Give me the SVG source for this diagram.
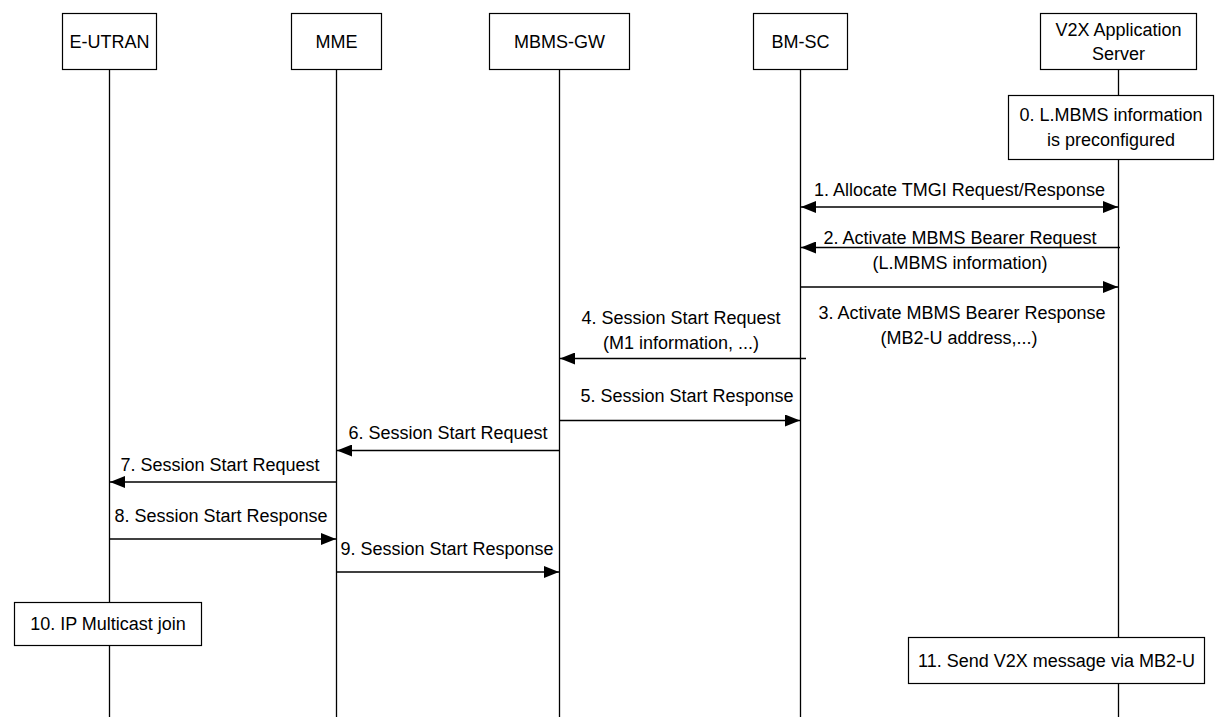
<svg xmlns="http://www.w3.org/2000/svg" width="1216" height="717" viewBox="0 0 1216 717">
<style>
.box{fill:#fff;stroke:#000;stroke-width:1.2}
.life{stroke:#000;stroke-width:1.3;fill:none}
.msg{stroke:#000;stroke-width:1.3;fill:none}
text{font-family:"Liberation Sans",Arial,sans-serif;font-size:18px;fill:#000;text-anchor:middle}
</style>
<defs>
<marker id="ah" markerUnits="userSpaceOnUse" markerWidth="15" markerHeight="12" refX="15" refY="6" orient="auto-start-reverse">
<path d="M0,0 L15,6 L0,12 z" fill="#000"/>
</marker>
</defs>
<rect width="1216" height="717" fill="#fff"/>
<g id="lifelines">
<line class="life" x1="109.5" y1="69" x2="109.5" y2="717"/>
<line class="life" x1="336.5" y1="69" x2="336.5" y2="717"/>
<line class="life" x1="559.5" y1="69" x2="559.5" y2="717"/>
<line class="life" x1="800.5" y1="69" x2="800.5" y2="717"/>
<line class="life" x1="1118.5" y1="69" x2="1118.5" y2="717"/>
</g>
<g id="node-eutran"><rect class="box" x="62.5" y="13.5" width="94" height="56"/><text x="109.5" y="47.5">E-UTRAN</text></g>
<g id="node-mme"><rect class="box" x="291.5" y="13.5" width="90" height="56"/><text x="336.5" y="47.5">MME</text></g>
<g id="node-mbmsgw"><rect class="box" x="489.5" y="13.5" width="140" height="56"/><text x="559.5" y="47.5">MBMS-GW</text></g>
<g id="node-bmsc"><rect class="box" x="753.5" y="13.5" width="94" height="56"/><text x="800.5" y="47.5">BM-SC</text></g>
<g id="node-v2x"><rect class="box" x="1040.5" y="13.5" width="156" height="56"/><text x="1118.5" y="35.5">V2X Application</text><text x="1118.5" y="59.5">Server</text></g>
<g id="step0"><rect class="box" x="1008.5" y="95.5" width="205" height="64"/><text x="1111" y="121">0. L.MBMS information</text><text x="1111" y="146">is preconfigured</text></g>
<g id="step10"><rect class="box" x="14.5" y="602.5" width="187" height="43"/><text x="108" y="630">10. IP Multicast join</text></g>
<g id="step11"><rect class="box" x="908.5" y="637.5" width="296" height="46"/><text x="1056.5" y="666.5">11. Send V2X message via MB2-U</text></g>
<g id="connectors">
<line class="msg" x1="801" y1="207" x2="1118" y2="207" marker-start="url(#ah)" marker-end="url(#ah)"/>
<line class="msg" x1="1120" y1="247.5" x2="801" y2="247.5" marker-end="url(#ah)"/>
<line class="msg" x1="801" y1="287" x2="1118" y2="287" marker-end="url(#ah)"/>
<line class="msg" x1="806" y1="358.5" x2="560" y2="358.5" marker-end="url(#ah)"/>
<line class="msg" x1="560" y1="420.5" x2="800" y2="420.5" marker-end="url(#ah)"/>
<line class="msg" x1="559" y1="450.5" x2="337" y2="450.5" marker-end="url(#ah)"/>
<line class="msg" x1="336" y1="482" x2="110" y2="482" marker-end="url(#ah)"/>
<line class="msg" x1="110" y1="539" x2="336" y2="539" marker-end="url(#ah)"/>
<line class="msg" x1="337" y1="572" x2="559" y2="572" marker-end="url(#ah)"/>
</g>
<g id="labels">
<text x="959.5" y="196">1. Allocate TMGI Request/Response</text>
<text x="960" y="243.5">2. Activate MBMS Bearer Request</text>
<text x="960" y="268.5">(L.MBMS information)</text>
<text x="962" y="318.5">3. Activate MBMS Bearer Response</text>
<text x="959" y="343.5">(MB2-U address,...)</text>
<text x="681" y="323.5">4. Session Start Request</text>
<text x="681" y="348.5">(M1 information, ...)</text>
<text x="687" y="402">5. Session Start Response</text>
<text x="448" y="438.5">6. Session Start Request</text>
<text x="220" y="471">7. Session Start Request</text>
<text x="221" y="521.5">8. Session Start Response</text>
<text x="447" y="554.5">9. Session Start Response</text>
</g>
</svg>
